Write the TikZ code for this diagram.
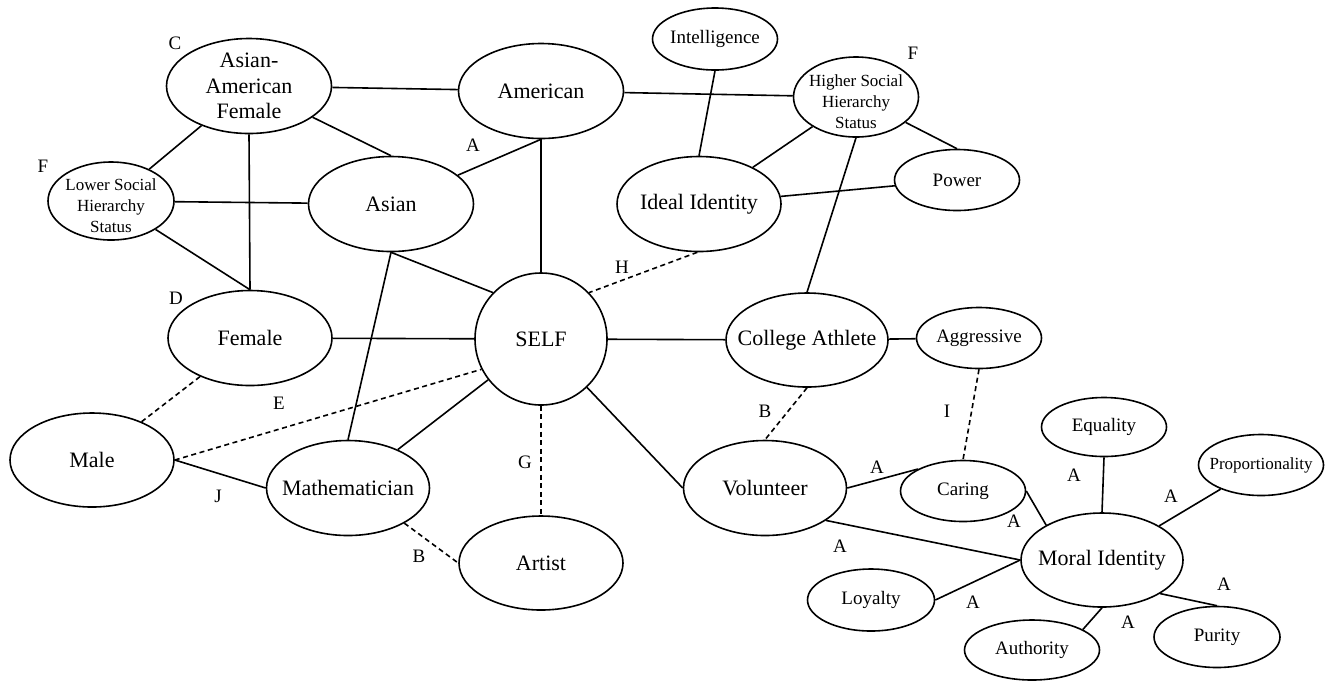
\documentclass[tikz,border=0pt]{standalone}
\usepackage{fontspec}
\setmainfont{Liberation Serif}
\usetikzlibrary{shapes.geometric}
\tikzset{
  ell/.style={ellipse, draw, line width=0.8pt, inner sep=0pt},
  circ/.style={circle, draw, line width=0.8pt, inner sep=0pt},
  big/.style={font=\fontsize{11}{12.75}\selectfont, align=center, inner sep=0pt},
  small/.style={font=\fontsize{9.5}{11}\selectfont, align=center, inner sep=0pt},
  tiny/.style={font=\fontsize{8.5}{10.5}\selectfont, align=center, inner sep=0pt},
  lab/.style={font=\fontsize{9.5}{11}\selectfont, inner sep=0pt},
  edge/.style={line width=0.8pt},
  dedge/.style={line width=0.8pt, dash pattern=on 2.5pt off 1.8pt},
}
\newcommand\enode[6]{%
  \node[ell, minimum width=#3, minimum height=#4] (#1) at (#2) {};
  \node[#5] (#1-t) at (#1) {#6};}
\begin{document}
\begin{tikzpicture}[x=0.5pt,y=-0.5pt]
\useasboundingbox (0,0) rectangle (1325,682);
% nodes
\enode{aaf}{249,86}{82.5pt}{47.5pt}{big}{Asian-\\American\\Female}
\enode{amer}{541,91}{82.5pt}{47.5pt}{big}{American}
\enode{intel}{715,39}{62.5pt}{31pt}{small}{Intelligence}
\enode{high}{856,97}{62.5pt}{40pt}{tiny,yshift=-2.5pt}{Higher Social\\Hierarchy\\Status}
\enode{low}{111,201}{63pt}{39pt}{tiny,yshift=-2.5pt}{Lower Social\\Hierarchy\\Status}
\enode{asian}{391,204}{82.5pt}{47.5pt}{big}{Asian}
\enode{ideal}{699,204}{82pt}{47.5pt}{big}{Ideal Identity}
\enode{power}{957,180}{62.5pt}{30.5pt}{small}{Power}
\enode{fem}{250,338}{82pt}{47.5pt}{big}{Female}
\node[circ, minimum size=66pt] (self) at (541,339) {};
\node[big] (self-t) at (self) {SELF};
\enode{ca}{807,340}{81pt}{47pt}{big}{College Athlete}
\enode{aggr}{979,338}{62.5pt}{30.5pt}{small}{Aggressive}
\enode{male}{92,460}{82pt}{47pt}{big}{Male}
\enode{math}{348,488}{81.5pt}{47.5pt}{big}{Mathematician}
\enode{vol}{765,488}{81.5pt}{47.5pt}{big}{Volunteer}
\enode{caring}{963,491}{62.5pt}{30.5pt}{small}{Caring}
\enode{eq}{1104,427}{62.5pt}{29.5pt}{small}{Equality}
\enode{prop}{1261,465}{62.5pt}{30.5pt}{tiny}{Proportionality}
\enode{artist}{541,563}{82pt}{47pt}{big}{Artist}
\enode{moral}{1102,560}{81pt}{47pt}{big}{Moral Identity}
\enode{loy}{871,600}{63.5pt}{31pt}{small}{Loyalty}
\enode{auth}{1032,650}{67.5pt}{30pt}{small}{Authority}
\enode{purity}{1217,637}{63pt}{30.5pt}{small}{Purity}
% edges
\draw[edge] (aaf) -- (amer);
\draw[edge] (aaf) -- (low);
\draw[edge] (aaf) -- (asian.north);
\draw[edge] (aaf.south) -- (fem.north);
\draw[edge] (low) -- (asian);
\draw[edge] (low) -- (fem.north);
\draw[edge] (asian) -- (amer.south);
\draw[edge] (amer.south) -- (self.north);
\draw[edge] (amer) -- (high);
\draw[edge] (intel.south) -- (ideal.north);
\draw[edge] (high) -- (ideal);
\draw[edge] (high) -- (power.north);
\draw[edge] (high.south) -- (ca.north);
\draw[edge] (ideal) -- (power);
\draw[dedge] (ideal.268) -- (self.44);
\draw[edge] (asian.south) -- (self.136);
\draw[edge] (asian.south) -- (math.north);
\draw[edge] (fem) -- (self);
\draw[dedge] (male) -- (fem);
\draw[dedge] (male.east) -- (self.207);
\draw[edge] (self) -- (ca);
\draw[edge] (self) -- (math);
\draw[dedge] (self.south) -- (artist.north);
\draw[edge] (self) -- (vol.west);
\draw[edge] (ca) -- (aggr);
\draw[dedge] (ca.south) -- (vol.north);
\draw[dedge] (aggr.south) -- (caring.north);
\draw[edge] (male.east) -- (math.west);
\draw[dedge] (math.-32) -- (artist.west);
\draw[edge] (vol.east) -- (caring.154);
\draw[edge] (vol.-28) -- (moral.west);
\draw[edge] (caring.east) -- (moral.148);
\draw[edge] (eq.south) -- (moral.north);
\draw[edge] (prop) -- (moral);
\draw[edge] (loy.east) -- (moral.west);
\draw[edge] (auth.22) -- (moral.south);
\draw[edge] (moral.-30) -- (purity.north);
% letter labels
\node[lab] (lC) at (175,43) {C};
\node[lab] (lF1) at (43,166) {F};
\node[lab] (lF2) at (913,53) {F};
\node[lab] (lD) at (176,298) {D};
\node[lab] (lA1) at (473,145) {A};
\node[lab] (lH) at (622,267) {H};
\node[lab] (lE) at (279,403) {E};
\node[lab] (lJ) at (218,496) {J};
\node[lab] (lB1) at (419,556) {B};
\node[lab] (lG) at (525,462) {G};
\node[lab] (lB2) at (765,411) {B};
\node[lab] (lI) at (947,411) {I};
\node[lab] (lA2) at (877,467) {A};
\node[lab] (lA3) at (840,546) {A};
\node[lab] (lA4) at (1014,521) {A};
\node[lab] (lA5) at (1074,475) {A};
\node[lab] (lA6) at (1171,496) {A};
\node[lab] (lA7) at (973,602) {A};
\node[lab] (lA8) at (1128,622) {A};
\node[lab] (lA9) at (1224,584) {A};
\end{tikzpicture}
\end{document}
